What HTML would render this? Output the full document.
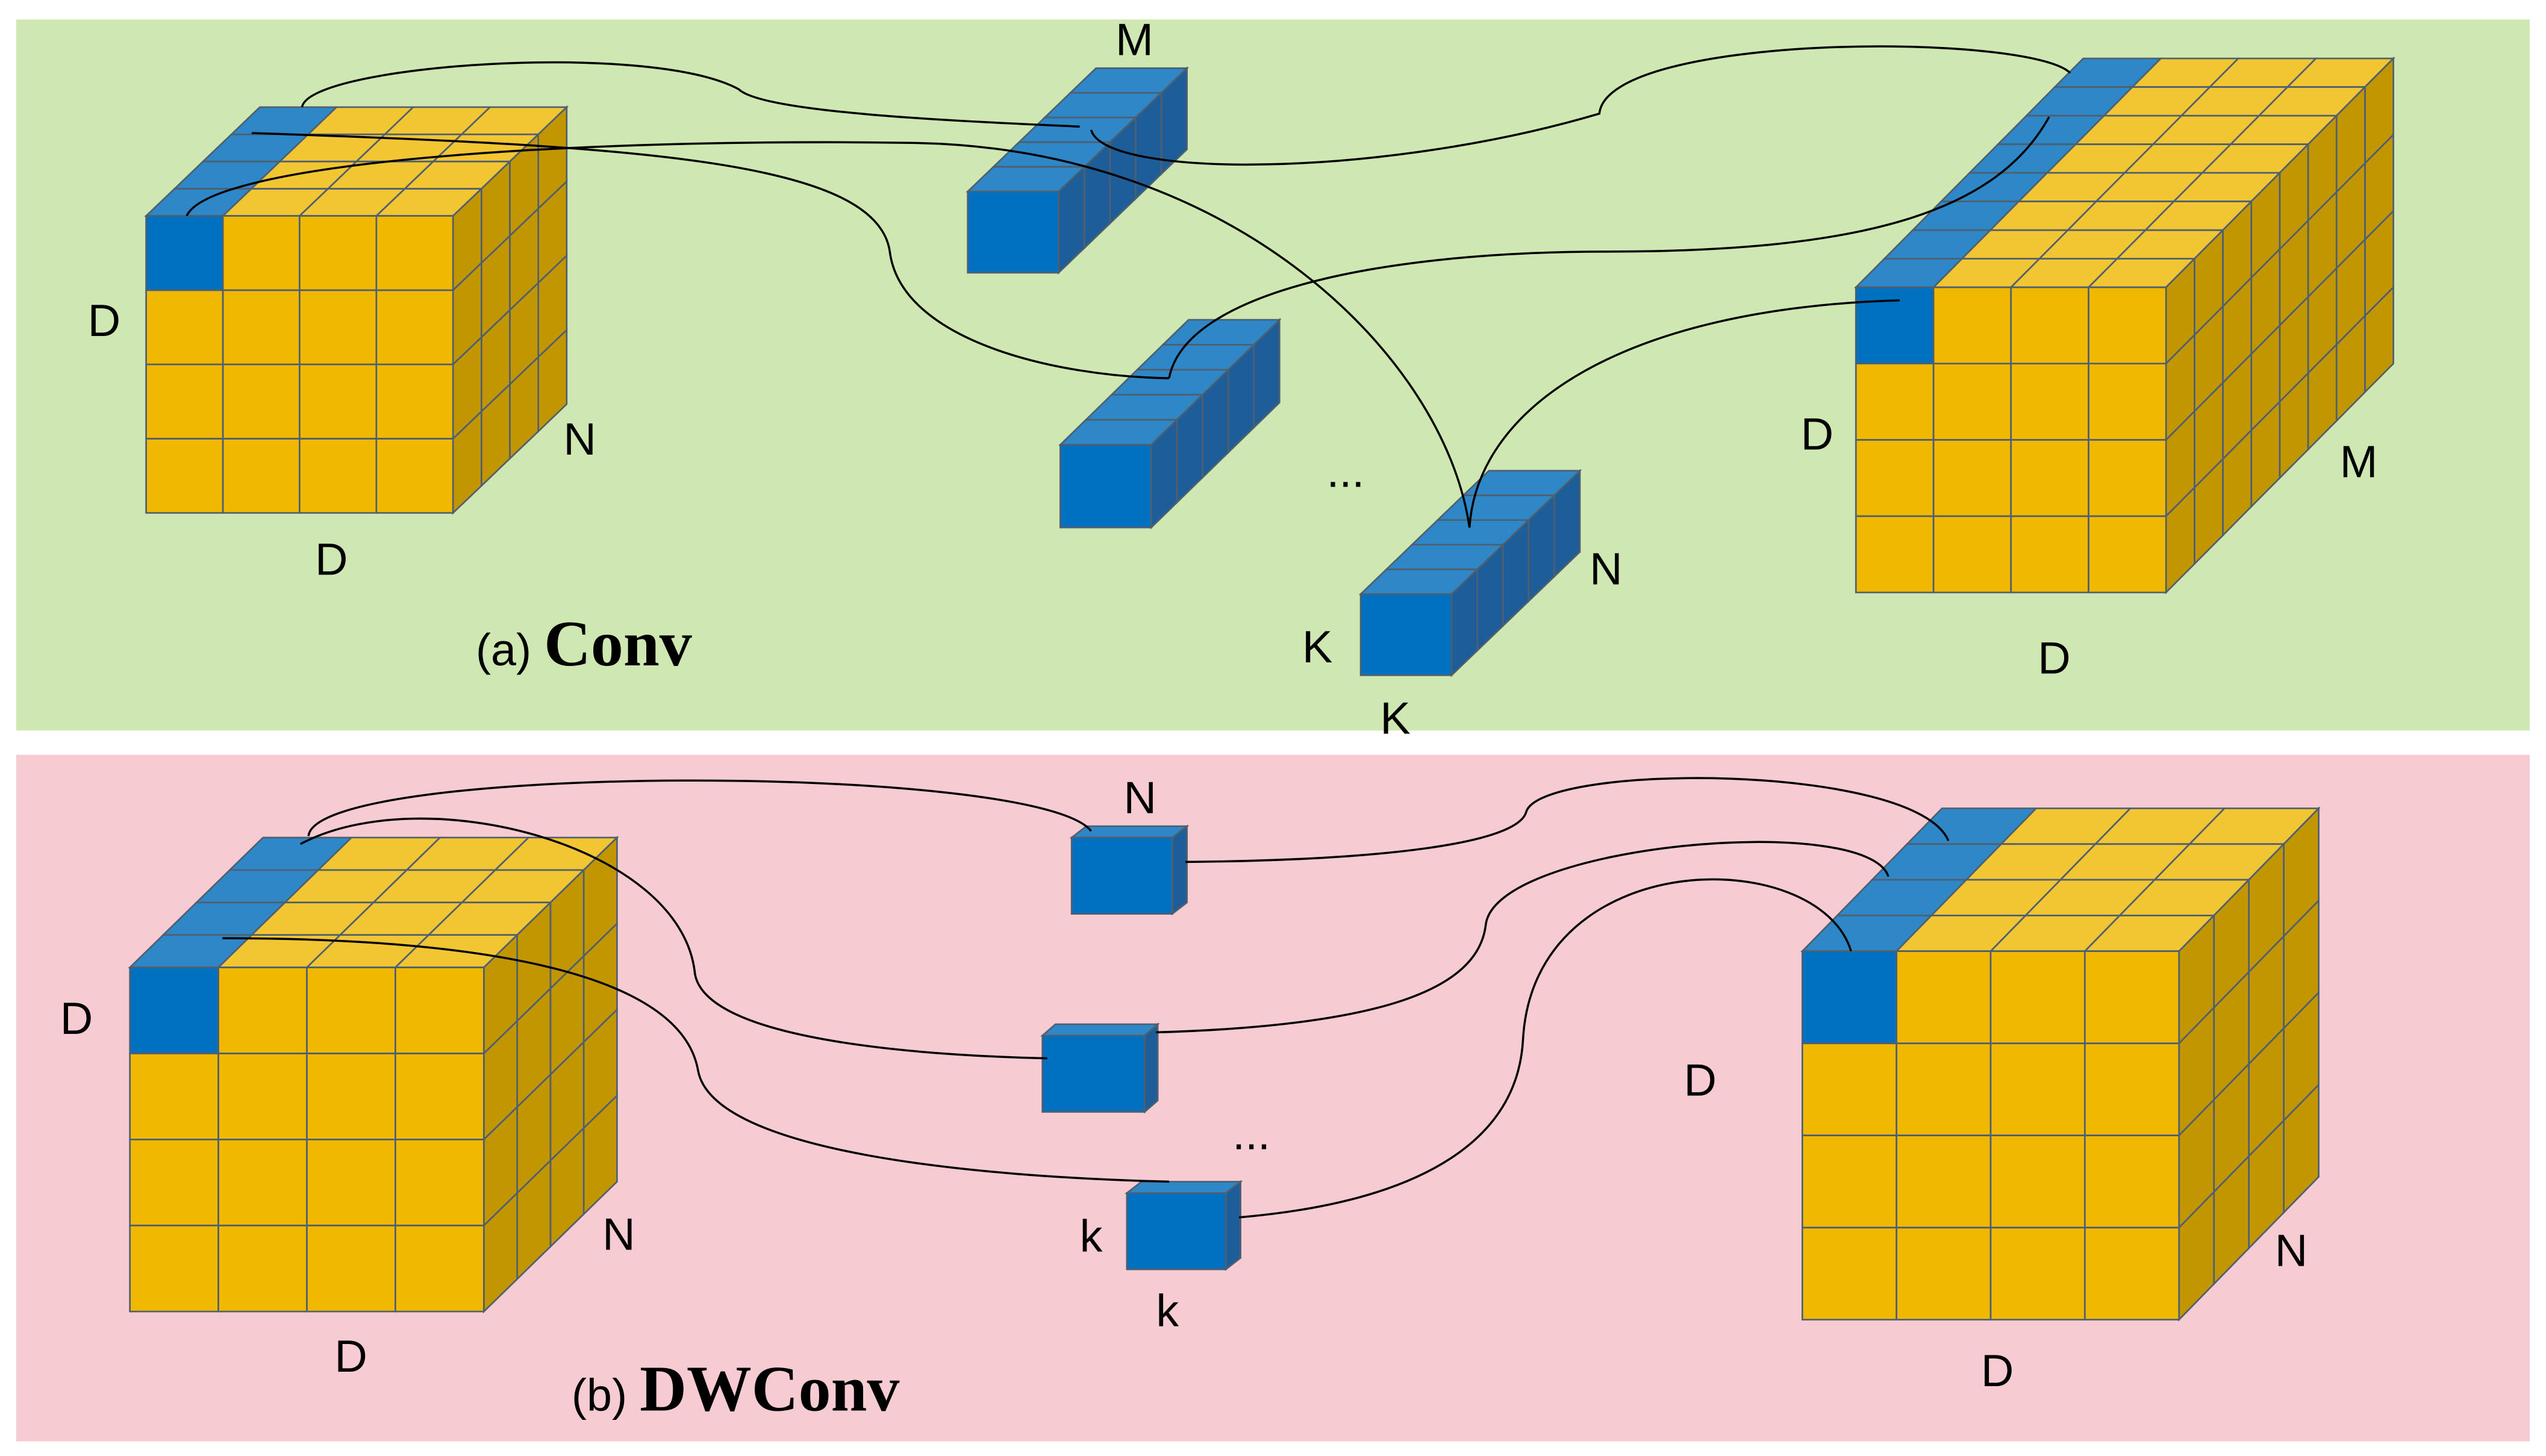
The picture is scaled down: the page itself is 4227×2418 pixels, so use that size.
<!DOCTYPE html>
<html><head><meta charset="utf-8"><style>
html,body{margin:0;padding:0;background:#fff;}
svg{display:block;}
text{font-family:"Liberation Sans",sans-serif;fill:#000;}
</style></head><body>
<svg id="s" width="4227" height="2418" viewBox="0 0 1568 897" preserveAspectRatio="none" xmlns="http://www.w3.org/2000/svg">
<rect x="0" y="0" width="1568" height="897" fill="#fff"/>
<rect x="10" y="12" width="1548" height="438" fill="#CFE8B1"/>
<rect x="10" y="465" width="1548" height="423" fill="#F6CCD2"/>
<g id="cubes"></g>
<g fill="none" stroke="#000" stroke-width="1.3">
<path d="M186,66 C190,40 400,25 455,55 C470,70 600,75 665,78"/>
<path d="M155,82 C400,90 540,100 548,155 C555,210 650,232 720,233"/>
<path d="M115,133 C130,100 350,85 560,88 C760,90 890,220 905,325"/>
<path d="M905,325 C910,250 1000,190 1170,185"/>
<path d="M672,80 C680,110 850,110 985,70 C990,20 1250,20 1275,45"/>
<path d="M720,233 C730,180 850,155 990,155 C1150,155 1230,130 1262,72"/>
<path d="M190,515 C195,470 640,470 672,512"/>
<path d="M730,531 C850,530 935,520 940,500 C950,470 1180,470 1200,518"/>
<path d="M185,520 C260,480 420,520 428,600 C435,640 560,650 645,652"/>
<path d="M712,636 C850,632 910,610 915,570 C920,520 1150,500 1163,540"/>
<path d="M137,578 C300,578 420,600 430,660 C440,710 600,725 720,728"/>
<path d="M763,750 C880,740 935,700 938,640 C945,520 1120,520 1140,586"/>
</g>
<g font-size="28">
<text x="54" y="207">D</text><text x="347" y="280">N</text><text x="194" y="354">D</text>
<text x="293" y="410">(a) <tspan font-family="Liberation Serif" font-weight="bold" font-size="40">Conv</tspan></text>
<text x="687" y="34">M</text><text x="817" y="300">...</text><text x="979" y="360">N</text>
<text x="802" y="408">K</text><text x="850" y="452">K</text>
<text x="1109" y="277">D</text><text x="1441" y="294">M</text><text x="1255" y="415">D</text>
<text x="692" y="501">N</text><text x="37" y="637">D</text><text x="371" y="770">N</text><text x="206" y="845">D</text>
<text x="352" y="869">(b) <tspan font-family="Liberation Serif" font-weight="bold" font-size="40">DWConv</tspan></text>
<text x="1037" y="675">D</text><text x="759" y="708">...</text><text x="665" y="771">k</text><text x="712" y="817">k</text>
<text x="1401" y="780">N</text><text x="1220" y="854">D</text>
</g>
</svg>
<script>
var g=document.getElementById('cubes'),NS='http://www.w3.org/2000/svg';
function poly(pts,fill){var p=document.createElementNS(NS,'polygon');p.setAttribute('points',pts.map(function(a){return a[0].toFixed(1)+','+a[1].toFixed(1)}).join(' '));p.setAttribute('fill',fill);p.setAttribute('stroke','#4F5F70');p.setAttribute('stroke-width','1');g.appendChild(p);}
var YF='#F0B800',YT='#F2C533',YS='#C29600',BF='#0070C0',BT='#2E88C8',BS='#1E5E98';
function cube(x0,y0,x1,y1,nc,nr,nd,bx,by,kernel){
 var w=(x1-x0)/nc,h=(y1-y0)/nr,dx=(bx-x1)/nd,dy=(y0-by)/nd;
 for(var k=nd-1;k>=0;k--)for(var c=0;c<nc;c++){
  var xa=x0+c*w+k*dx,ya=y0-k*dy;
  var blue=kernel||c==0;
  poly([[xa,ya],[xa+w,ya],[xa+w+dx,ya-dy],[xa+dx,ya-dy]],blue?BT:YT);}
 for(var k=nd-1;k>=0;k--)for(var r=0;r<nr;r++){
  var xa=x1+k*dx,ya=y0+r*h-k*dy;
  poly([[xa,ya],[xa+dx,ya-dy],[xa+dx,ya+h-dy],[xa,ya+h]],kernel?BS:YS);}
 for(var r=0;r<nr;r++)for(var c=0;c<nc;c++){
  var xa=x0+c*w,ya=y0+r*h;
  poly([[xa,ya],[xa+w,ya],[xa+w,ya+h],[xa,ya+h]],(kernel||(r==0&&c==0))?BF:YF);}
}
cube(90,133,279,316,4,4,4,349,66,false);
cube(596,118,652,168,1,1,5,731,42,true);
cube(653,274,709,325,1,1,5,788,197,true);
cube(838,366,894,416,1,1,5,973,290,true);
cube(1143,177,1334,365,4,4,8,1474,36,false);
cube(80,596,298,808,4,4,4,380,516,false);
cube(660,516,722,563,1,1,1,731,509,true);
cube(642,638,705,685,1,1,1,713,631,true);
cube(694,735,755,782,1,1,1,764,728,true);
cube(1110,586,1342,813,4,4,4,1428,498,false);
</script>
</body></html>
